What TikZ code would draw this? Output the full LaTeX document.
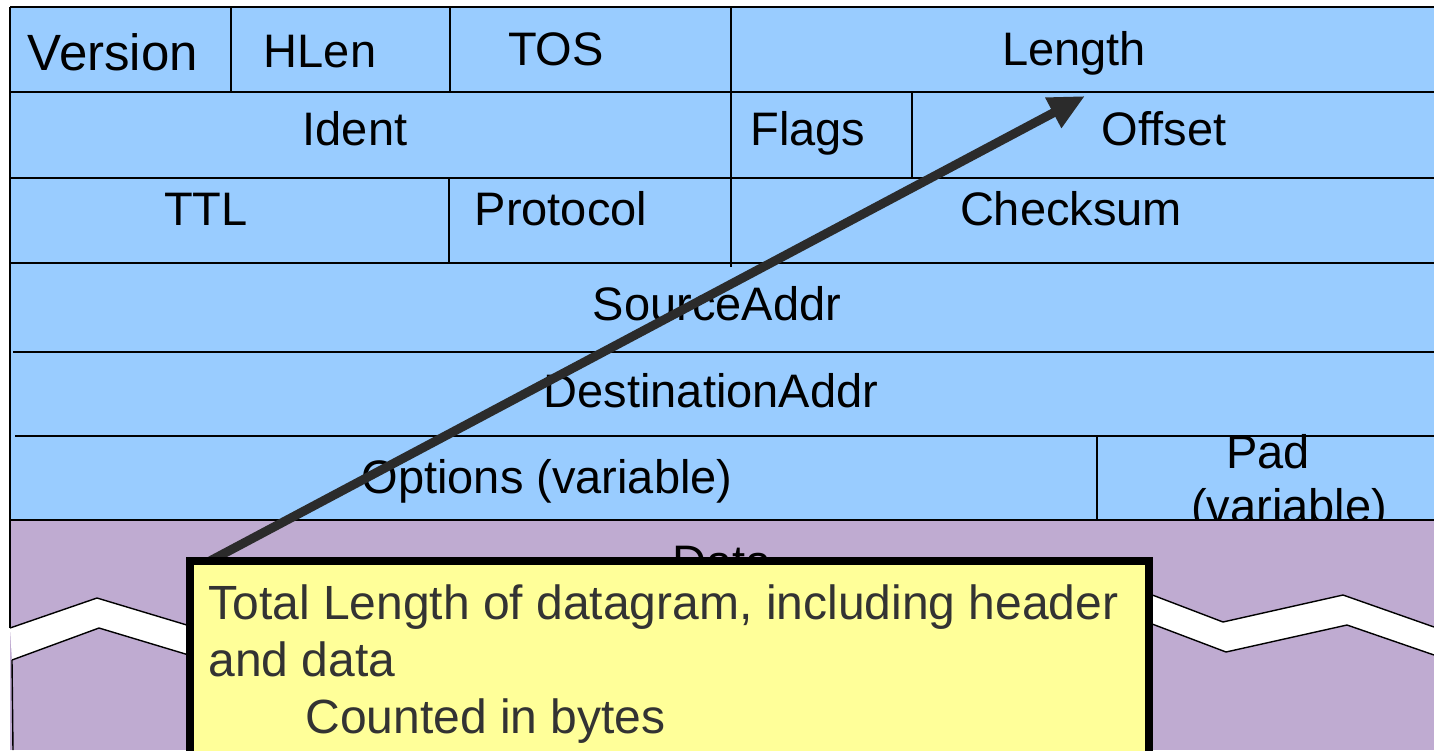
\documentclass[tikz,border=0pt]{standalone}
\usepackage{fontspec}
\setmainfont{Liberation Sans}
\usetikzlibrary{arrows.meta}
\definecolor{hdrblue}{HTML}{99CCFF}
\definecolor{datapurple}{RGB}{191,171,209}
\definecolor{noteyellow}{HTML}{FFFF99}
\definecolor{pointer}{HTML}{2B2B2B}
\definecolor{notetext}{HTML}{333333}

\begin{document}
\begin{tikzpicture}[x=0.5pt,y=-0.5pt,
  field/.style={font=\fontsize{23.5}{28}\selectfont, inner sep=0pt, anchor=base},
  rule/.style={line width=1pt}]

\clip (0,0) rectangle (1434,750);

% header fields
\fill [hdrblue] (10,7) rectangle (1434,520);

\foreach \lx/\ly/\nm/\lbl in {320/67/hlen/HLen, 556/65/tos/TOS, 1074/65/len/Length,
  355/145/ident/Ident, 808/145/flags/Flags, 1164/145/offset/Offset,
  206/225/ttl/TTL, 561/225/proto/Protocol, 1071/225/cksum/Checksum,
  717/320/src/SourceAddr, 711/407/dst/DestinationAddr,
  547/493/opts/Options (variable), 1268/468/pad/Pad, 1289/522/padvar/(variable)}
{
\node [field] (\nm) at (\lx,\ly) {\lbl};
}
\node [field, font=\fontsize{25.5}{30}\selectfont] (ver) at (113,70) {Version};

\foreach \ry in {7,92,178,263}
{
\draw [rule] (10,\ry) -- (1434,\ry);
}
\draw [rule] (13,352) -- (1434,352);
\draw [rule] (15,436) -- (1434,436);

\draw [rule] (231,7) -- (231,92);
\draw [rule] (450,7) -- (450,92);
\draw [rule] (731,7) -- (731,267);
\draw [rule] (912,92) -- (912,178);
\draw [rule] (449,178) -- (449,263);
\draw [rule] (1097,436) -- (1097,520);

% data part with the cut
\fill [datapurple] (10,520) rectangle (1434,750);
\draw [line width=0.7pt] (10,520) -- (1434,520);
\node [field] (data) at (722,578) {Data};

\fill [white] (10,628) -- (97,598) -- (230,638) -- (1100,575) -- (1223,622) -- (1343,595) -- (1434,627)
  -- (1434,655) -- (1347,625) -- (1226,652) -- (1102,605) -- (232,668) -- (99,628) -- (12,660) -- cycle;
\draw [line width=0.7pt] (10,628) -- (97,598) -- (230,638) -- (1100,575) -- (1223,622) -- (1343,595) -- (1434,627);
\draw [line width=0.7pt] (12,660) -- (99,628) -- (232,668) -- (1102,605) -- (1226,652) -- (1347,625) -- (1434,655);
\draw [line width=0.7pt] (10,7) -- (10,628);
\draw [line width=0.7pt] (12,660) -- (13,750);

% pointer and note
\coordinate (tail) at (208,562);
\coordinate (tip) at (1085,96);
\draw [pointer, line width=4.5pt, -{Triangle[length=18pt,width=16pt]}] (tail) -- (tip);

\draw [line width=4pt, fill=noteyellow] (190,561) rectangle (1149,770);
\node [anchor=base west, align=left, inner sep=0pt, text=notetext,
  font=\fontsize{24}{28.5}\selectfont] (note) at (208,733)
  {Total Length of datagram, including header\\and data\\\hspace{48.5pt}Counted in bytes};

\end{tikzpicture}
\end{document}
